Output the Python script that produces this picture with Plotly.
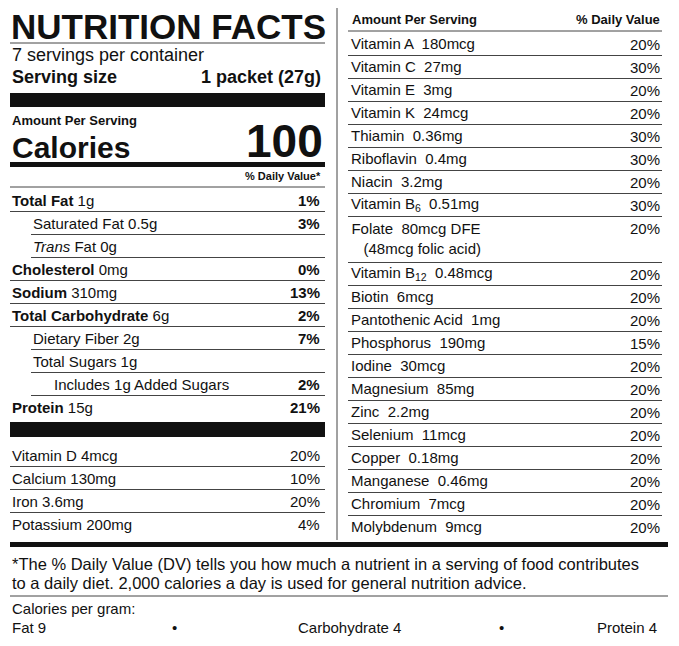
import plotly.graph_objects as go

W, H = 679, 646
FONT = "Liberation Sans"

# left column: main nutrients
main_names = ["<b>Total Fat</b> 1g", "Saturated Fat 0.5g", "<i>Trans</i> Fat 0g",
              "<b>Cholesterol</b> 0mg", "<b>Sodium</b> 310mg", "<b>Total Carbohydrate</b> 6g",
              "Dietary Fiber 2g", "Total Sugars 1g", "Includes 1g Added Sugars",
              "<b>Protein</b> 15g"]
main_indent = [0, 1, 1, 0, 0, 0, 1, 1, 2, 0]
main_dv = ["1%", "3%", "", "0%", "13%", "2%", "7%", "", "2%", "21%"]

# left column: vitamins/minerals under the bar
low_names = ["Vitamin D 4mcg", "Calcium 130mg", "Iron 3.6mg", "Potassium 200mg"]
low_dv = ["20%", "10%", "20%", "4%"]

# right column
right_names = ["Vitamin A  180mcg", "Vitamin C  27mg", "Vitamin E  3mg", "Vitamin K  24mcg",
               "Thiamin  0.36mg", "Riboflavin  0.4mg", "Niacin  3.2mg",
               "Vitamin B<sub>6</sub>  0.51mg", "Folate  80mcg DFE<br>   (48mcg folic acid)",
               "Vitamin B<sub>12</sub>  0.48mcg", "Biotin  6mcg", "Pantothenic Acid  1mg",
               "Phosphorus  190mg", "Iodine  30mcg", "Magnesium  85mg", "Zinc  2.2mg",
               "Selenium  11mcg", "Copper  0.18mg", "Manganese  0.46mg", "Chromium  7mcg",
               "Molybdenum  9mcg"]
right_dv = ["20%", "30%", "20%", "20%", "30%", "30%", "20%", "30%", "20%", "20%", "20%",
            "20%", "15%", "20%", "20%", "20%", "20%", "20%", "20%", "20%", "20%"]
right_lines = [1, 1, 1, 1, 1, 1, 1, 1, 2, 1, 1, 1, 1, 1, 1, 1, 1, 1, 1, 1, 1]

footnote = ["*The % Daily Value (DV) tells you how much a nutrient in a serving of food contributes",
            "to a daily diet. 2,000 calories a day is used for general nutrition advice."]
cal_per_gram = ["Fat 9", "Carbohydrate 4", "Protein 4"]

ann, shapes = [], []
LINE = "#444"
ROW = 15


def text(x, y, s, size=ROW, anchor="left", color="#111", yanchor="middle"):
    ann.append(dict(x=x, y=y, xref="x", yref="y", text=s, showarrow=False,
                    xanchor=anchor, yanchor=yanchor,
                    font=dict(family=FONT, size=size, color=color)))


def hline(x0, x1, y, w=1, color=LINE):
    shapes.append(dict(type="line", x0=x0, x1=x1, y0=y, y1=y, xref="x", yref="y",
                       line=dict(color=color, width=w)))


def bar(x0, x1, y0, y1):
    shapes.append(dict(type="rect", x0=x0, x1=x1, y0=y0, y1=y1, xref="x", yref="y",
                       fillcolor="#111", line=dict(width=0)))


L0, L1 = 10, 325
R0, R1 = 348, 662

# divider
shapes.append(dict(type="line", x0=337, x1=337, y0=8, y1=540, xref="x", yref="y",
                   line=dict(color=LINE, width=1)))

# header
text(L0 - 1, 26, "<b>NUTRITION FACTS</b>", size=35)
hline(L0, L1, 43)
text(L0, 55, "7 servings per container", size=18)
text(L0, 77, "<b>Serving size</b>", size=18)
text(L1 - 2, 77, "<b>1 packet (27g)</b>", size=18, anchor="right")
bar(L0, L1, 93, 107)
text(L0, 120, "<b>Amount Per Serving</b>", size=13)
text(L0, 147, "<b>Calories</b>", size=30)
text(L1, 141, "<b>100</b>", size=46, anchor="right")
bar(L0, L1, 162, 167)
text(L1 - 2, 176, "<b>% Daily Value*</b>", size=11, anchor="right")
hline(L0, L1, 187)

y = 200
for name, ind, dv in zip(main_names, main_indent, main_dv):
    text(L0 + ind * 21, y, name)
    if dv:
        text(L1 - 3, y, "<b>" + dv + "</b>", anchor="right")
    if y < 400:
        hline(L0 + (21 if ind else 0), L1, y + 11.5)
    y += 23

bar(L0, L1, 422, 437)
y = 455
for i, (name, dv) in enumerate(zip(low_names, low_dv)):
    text(L0, y, name)
    text(L1 - 3, y, dv, anchor="right")
    if i < len(low_names) - 1:
        hline(L0, L1, y + 11.5)
    y += 23

# right column
text(R0 + 2, 19, "<b>Amount Per Serving</b>", size=13)
text(R1, 19, "<b>% Daily Value</b>", size=13, anchor="right")
hline(R0, R1, 31)
y = 44
for i, (name, dv, n) in enumerate(zip(right_names, right_dv, right_lines)):
    text(R0 + 1, y - 1 + (n - 1) * 11.5, name)
    text(R1, y, dv, anchor="right")
    y += 23 * n
    if i < len(right_names) - 1:
        hline(R0, R1, y - 11.5)

# bottom
bar(L0, 668, 542, 547)
text(L0, 564, footnote[0], size=16.5)
text(L0, 583, footnote[1], size=16.5)
hline(L0, 668, 596)
text(L0, 608, "Calories per gram:", size=15)
text(L0, 627, cal_per_gram[0], size=15)
text(174, 627, "•", size=15, anchor="center")
text(349, 627, cal_per_gram[1], size=15, anchor="center")
text(501, 627, "•", size=15, anchor="center")
text(659, 627, cal_per_gram[2], size=15, anchor="right")

fig = go.Figure()
# page body has an 8px margin, so shift the axis window to compensate
fig.update_layout(width=W, height=H, margin=dict(l=0, r=0, t=0, b=0),
                  paper_bgcolor="white", plot_bgcolor="white",
                  xaxis=dict(range=[8, W + 8], visible=False, fixedrange=True),
                  yaxis=dict(range=[H + 8, 8], visible=False, fixedrange=True),
                  annotations=ann, shapes=shapes, showlegend=False)
fig.write_html("out.html")
